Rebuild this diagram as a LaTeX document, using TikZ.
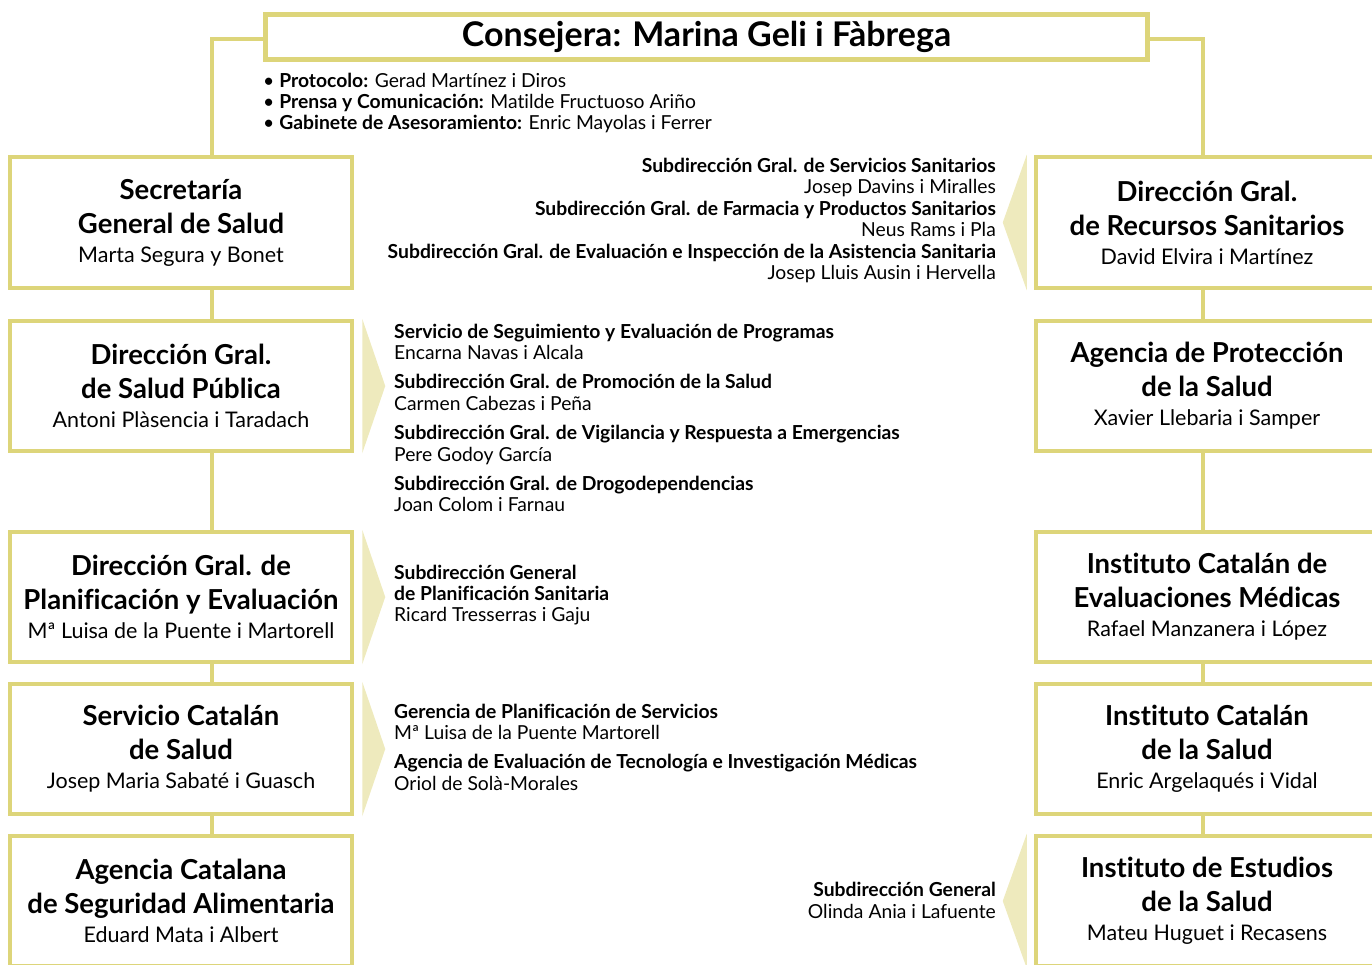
\documentclass[tikz,border=0pt]{standalone}
\usepackage{fontspec}
\setmainfont{Lato}[Ligatures=NoCommon]
\usetikzlibrary{positioning}
\definecolor{boxline}{HTML}{DDD57A}
\definecolor{wedgefill}{HTML}{EEEABD}
\newcommand{\tbf}{\bfseries}
\newcommand{\tnm}{\fontsize{21.5}{34}\selectfont\mdseries}
\tikzset {
  x=1pt, y=-1pt,
  % boxes of the chart
  unit/.style = {draw=boxline, line width=4.5pt, minimum width=342pt, minimum height=130pt, inner sep=0pt, align=center, font=\fontsize{27.5}{34}\selectfont},
  head/.style = {draw=boxline, line width=4.5pt, minimum width=882pt, minimum height=45pt, inner sep=0pt, font=\fontsize{34}{38}\selectfont\bfseries},
  % lines between the boxes
  link/.style = {boxline, line width=4.5pt},
  % small arrows pointing to the sub-units
  wedge/.style = {fill=wedgefill},
  % lists of sub-units
  list/.style = {inner sep=0pt, font=\fontsize{19.3}{21.4}\selectfont},
}
\begin{document}
\begin{tikzpicture}
  \useasboundingbox (0,0) rectangle (1372,965);
  \clip (0,0) rectangle (1372,965);

  \node[head] (cons) at (706.5,37) {Consejera: Marina Geli i Fàbrega};
  \node[list, anchor=west, align=left] (staff) at (263,103)
    {• \textbf{Protocolo:} Gerad Martínez i Diros\\
     • \textbf{Prensa y Comunicación:} Matilde Fructuoso Ariño\\
     • \textbf{Gabinete de Asesoramiento:} Enric Mayolas i Ferrer};

  % left column
  \node[unit, minimum height=131pt] (sgs) at (181,222.5) {\tbf Secretaría\\\tbf General de Salud\\[-5pt]\tnm Marta Segura y Bonet};
  \node[unit] (dgsp) at (181,386) {\tbf Dirección Gral.\\\tbf de Salud Pública\\[-5pt]\tnm Antoni Plàsencia i Taradach};
  \node[unit] (dgpe) at (181,597) {\tbf Dirección Gral. de\\\tbf Planificación y Evaluación\\[-5pt]\tnm Mª Luisa de la Puente i Martorell};
  \node[unit] (cats) at (181,749) {\tbf Servicio Catalán\\\tbf de Salud\\[-5pt]\tnm Josep Maria Sabaté i Guasch};
  \node[unit] (acsa) at (181,901) {\tbf Agencia Catalana\\\tbf de Seguridad Alimentaria\\[-5pt]\tnm Eduard Mata i Albert};

  % right column
  \node[unit, minimum height=131pt] (dgrs) at (1207,222.5) {\tbf Dirección Gral.\\\tbf de Recursos Sanitarios\\[-5pt]\tnm David Elvira i Martínez};
  \node[unit] (aps) at (1207,386) {\tbf Agencia de Protección\\\tbf de la Salud\\[-5pt]\tnm Xavier Llebaria i Samper};
  \node[unit] (icem) at (1207,597) {\tbf Instituto Catalán de\\\tbf Evaluaciones Médicas\\[-5pt]\tnm Rafael Manzanera i López};
  \node[unit] (ics) at (1207,749) {\tbf Instituto Catalán\\\tbf de la Salud\\[-5pt]\tnm Enric Argelaqués i Vidal};
  \node[unit] (ies) at (1207,901) {\tbf Instituto de Estudios\\\tbf de la Salud\\[-5pt]\tnm Mateu Huguet i Recasens};

  % connectors
  \coordinate (lspine) at (212,39);
  \coordinate (rspine) at (1203,39);
  \draw[link] (cons.west |- lspine) -- (lspine) -- (lspine |- sgs.north);
  \draw[link] (cons.east |- rspine) -- (rspine) -- (rspine |- dgrs.north);
  \foreach \a/\b in {sgs/dgsp, dgsp/dgpe, dgpe/cats, cats/acsa}
    \draw[link] (lspine |- \a.south) -- (lspine |- \b.north);
  \foreach \a/\b in {dgrs/aps, aps/icem, icem/ics, ics/ies}
    \draw[link] (rspine |- \a.south) -- (rspine |- \b.north);

  % wedges
  \foreach \n in {dgsp, dgpe, cats}
    \fill[wedge] ([xshift=8]\n.north east) -- ([xshift=31]\n.east) -- ([xshift=8]\n.south east) -- cycle;
  \foreach \n in {dgrs, ies}
    \fill[wedge] ([xshift=-7]\n.north west) -- ([xshift=-31]\n.west) -- ([xshift=-7]\n.south west) -- cycle;

  % sub-units
  \node[list, anchor=east, align=right] (subrs) at (996,220.5)
    {\textbf{Subdirección Gral. de Servicios Sanitarios}\\
     Josep Davins i Miralles\\
     \textbf{Subdirección Gral. de Farmacia y Productos Sanitarios}\\
     Neus Rams i Pla\\
     \textbf{Subdirección Gral. de Evaluación e Inspección de la Asistencia Sanitaria}\\
     Josep Lluis Ausin i Hervella};
  \node[list, anchor=west, align=left] (subsp) at (394,418)
    {\textbf{Servicio de Seguimiento y Evaluación de Programas}\\
     Encarna Navas i Alcala\\[8pt]
     \textbf{Subdirección Gral. de Promoción de la Salud}\\
     Carmen Cabezas i Peña\\[8pt]
     \textbf{Subdirección Gral. de Vigilancia y Respuesta a Emergencias}\\
     Pere Godoy García\\[8pt]
     \textbf{Subdirección Gral. de Drogodependencias}\\
     Joan Colom i Farnau};
  \node[list, anchor=west, align=left] (subpe) at (394,595)
    {\textbf{Subdirección General}\\
     \textbf{de Planificación Sanitaria}\\
     Ricard Tresserras i Gaju};
  \node[list, anchor=west, align=left] (subcs) at (394,747)
    {\textbf{Gerencia de Planificación de Servicios}\\
     Mª Luisa de la Puente Martorell\\[8pt]
     \textbf{Agencia de Evaluación de Tecnología e Investigación Médicas}\\
     Oriol de Solà-Morales};
  \node[list, anchor=east, align=right] (subes) at (996,900.5)
    {\textbf{Subdirección General}\\
     Olinda Ania i Lafuente};
\end{tikzpicture}
\end{document}
